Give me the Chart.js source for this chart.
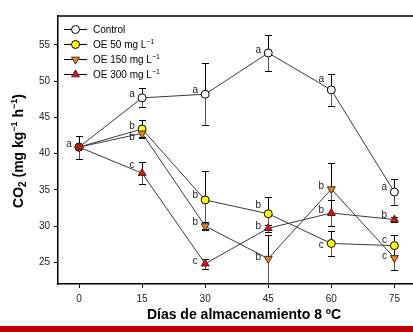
<!DOCTYPE html>
<html><head><meta charset="utf-8">
<script src="https://cdn.jsdelivr.net/npm/chart.js@4.4.1/dist/chart.umd.min.js"></script>
<style>
html,body{margin:0;padding:0;overflow:hidden;background:#fff;width:413px;height:332px;}
#wrap{position:relative;width:413px;height:332px;overflow:hidden;}
canvas{position:absolute;left:0;top:0;}
#bar{position:absolute;left:0;top:326px;width:413px;height:6px;background:#c00000;}
</style></head><body>
<div id="wrap"><canvas id="c" width="421" height="332"></canvas><div id="bar"></div></div>
<script>
// ---- data ----
const days = [0, 15, 30, 45, 60, 75];
const xTicks = [0, 15, 30, 45, 60, 75];
const yTicks = [25, 30, 35, 40, 45, 50, 55];
const seriesNames = ['Control', 'OE 50 mg L', 'OE 150 mg L', 'OE 300 mg L'];
const control = [40.9, 47.7, 48.2, 53.9, 48.8, 34.7];
const controlErr = [1.6, 1.3, 4.3, 2.5, 2.2, 1.8];
const oe50 = [40.9, 43.4, 33.6, 31.7, 27.6, 27.3];
const oe50Err = [1.6, 1.2, 4.0, 2.3, 1.7, 1.4];
const oe150 = [40.9, 42.8, 30.0, 25.5, 35.1, 25.6];
const oe150Err = [1.6, 0.5, 0.6, 3.3, 3.6, 1.6];
const oe300 = [40.9, 37.3, 24.8, 29.7, 31.8, 30.9];
const oe300Err = [1.6, 1.5, 0.7, 0.5, 1.8, 0.3];
const controlLetters = ['a', 'a', 'a', 'a', 'a', 'a'];
const oe50Letters = ['', 'b', 'b', 'b', 'c', 'c'];
const oe150Letters = ['', 'b', 'b', 'b', 'b', 'c'];
const oe300Letters = ['', 'c', 'c', 'b', 'b', 'b'];

// ---- style ----
const FONT = "'Liberation Sans', Arial, sans-serif";
Chart.defaults.font.family = FONT;
// per-point vertical offsets of the letters (px), default -4
const letterDy = [
  [-3, -4, -4, -3, -11, -5],
  [0, -3, -5, -8, 2, -5],
  [0, 4, -4, -1, -3, -2],
  [0, -8, -2, -2, -3, -4]
];
const styles = [
  {pointStyle: 'circle', radius: 4, rotation: 0, fill: '#ffffff', stroke: '#000'},
  {pointStyle: 'circle', radius: 4, rotation: 0, fill: '#ffff00', stroke: '#000'},
  {pointStyle: 'triangle', radius: 4.6, rotation: 180, fill: '#ff8000', stroke: '#333'},
  {pointStyle: 'triangle', radius: 4.6, rotation: 0, fill: '#ff0000', stroke: '#333'}
];
const values = [control, oe50, oe150, oe300];
const errs = [controlErr, oe50Err, oe150Err, oe300Err];
const letters = [controlLetters, oe50Letters, oe150Letters, oe300Letters];

const datasets = values.map((v, i) => ({
  label: seriesNames[i],
  data: days.map((d, j) => ({x: d, y: v[j]})),
  borderColor: '#3a3a3a',
  borderWidth: 1,
  tension: 0,
  pointStyle: styles[i].pointStyle,
  pointRotation: styles[i].rotation,
  pointRadius: styles[i].radius,
  pointBackgroundColor: styles[i].fill,
  pointBorderColor: styles[i].stroke,
  pointBorderWidth: 1,
  order: 4 - i
}));

const errorBars = {
  id: 'errorBars',
  beforeDatasetsDraw(chart) {
    const ctx = chart.ctx, xs = chart.scales.x, ys = chart.scales.y;
    ctx.save();
    ctx.lineWidth = 1;
    values.forEach((v, i) => {
      v.forEach((val, j) => {
        const x = Math.round(xs.getPixelForValue(days[j])) + 0.5;
        const yc = ys.getPixelForValue(val);
        const yt = Math.round(ys.getPixelForValue(val + errs[i][j])) + 0.5;
        const yb = Math.round(ys.getPixelForValue(val - errs[i][j])) + 0.5;
        ctx.strokeStyle = '#000';
        ctx.beginPath(); ctx.moveTo(x, yc); ctx.lineTo(x, yt);
        ctx.moveTo(x - 3.5, yt); ctx.lineTo(x + 3.5, yt); ctx.stroke();
        ctx.strokeStyle = '#555';
        ctx.beginPath(); ctx.moveTo(x, yc); ctx.lineTo(x, yb); ctx.stroke();
        ctx.strokeStyle = '#000';
        ctx.beginPath(); ctx.moveTo(x - 3.5, yb); ctx.lineTo(x + 3.5, yb); ctx.stroke();
      });
    });
    ctx.restore();
  }
};

function drawPieces(ctx, pieces, x, y, align) {
  let total = 0;
  pieces.forEach(p => { ctx.font = p.font; p.w = ctx.measureText(p.t).width; total += p.w; });
  let cx = align === 'center' ? x - total / 2 : x;
  ctx.textAlign = 'left';
  ctx.textBaseline = 'alphabetic';
  pieces.forEach(p => { ctx.font = p.font; ctx.fillText(p.t, cx, y + (p.dy || 0)); cx += p.w; });
}

const overlay = {
  id: 'overlay',
  afterDraw(chart) {
    const ctx = chart.ctx, xs = chart.scales.x, ys = chart.scales.y, a = chart.chartArea;
    ctx.save();
    // top frame line
    ctx.strokeStyle = '#000'; ctx.lineWidth = 1.5;
    ctx.beginPath(); ctx.moveTo(a.left - 0.75, a.top); ctx.lineTo(a.right + 2, a.top); ctx.stroke();
    // letters
    ctx.fillStyle = '#222';
    ctx.font = '10px ' + FONT;
    ctx.textAlign = 'center'; ctx.textBaseline = 'middle';
    letters.forEach((arr, i) => arr.forEach((t, j) => {
      if (!t) return;
      const x = xs.getPixelForValue(days[j]) - 10;
      const y = ys.getPixelForValue(values[i][j]) + letterDy[i][j];
      ctx.fillText(t, x, y);
    }));
    // legend
    const r10 = '10px ' + FONT, r7 = '7px ' + FONT;
    seriesNames.forEach((name, i) => {
      const y = 29 + 15 * i;
      ctx.strokeStyle = '#000'; ctx.lineWidth = 1;
      ctx.beginPath(); ctx.moveTo(64, y + 0.5); ctx.lineTo(87, y + 0.5); ctx.stroke();
      const s = styles[i];
      ctx.fillStyle = s.fill; ctx.strokeStyle = s.stroke; ctx.lineWidth = 1;
      Chart.helpers.drawPoint(ctx, {pointStyle: s.pointStyle, rotation: s.rotation, radius: s.radius, borderWidth: 1}, 75.5, y + 0.5);
      ctx.fillStyle = '#000';
      const pieces = [{t: name, font: r10}];
      if (i > 0) pieces.push({t: '\u22121', font: r7, dy: -4});
      drawPieces(ctx, pieces, 93, y + 4, 'left');
    });
    // x title
    ctx.fillStyle = '#000';
    drawPieces(ctx, [{t: 'Días de almacenamiento 8 ºC', font: 'bold 14px ' + FONT}], 244, 319, 'center');
    // y title
    ctx.translate(23, 151);
    ctx.rotate(-Math.PI / 2);
    const b14 = 'bold 14px ' + FONT, b10 = 'bold 10px ' + FONT, b9 = 'bold 9px ' + FONT;
    drawPieces(ctx, [
      {t: 'CO', font: b14}, {t: '2', font: b10, dy: 3},
      {t: ' (mg kg', font: b14}, {t: '\u22121', font: b9, dy: -6},
      {t: ' h', font: b14}, {t: '\u22121', font: b9, dy: -6},
      {t: ')', font: b14}
    ], 0, 0, 'center');
    ctx.restore();
  }
};

new Chart(document.getElementById('c'), {
  type: 'line',
  data: {datasets},
  options: {
    responsive: false,
    animation: false,
    devicePixelRatio: 1,
    layout: {padding: {top: 16, left: 0, right: 0, bottom: 0}},
    plugins: {legend: {display: false}, tooltip: {enabled: false}},
    scales: {
      x: {
        type: 'linear', min: -5, max: 80,
        afterBuildTicks: s => { s.ticks = xTicks.map(v => ({value: v})); },
        afterFit: s => { s.height = 48; },
        grid: {drawOnChartArea: false, drawTicks: true, tickLength: 4, tickColor: '#000'},
        border: {display: true, color: '#000', width: 1.5},
        ticks: {color: '#222', font: {size: 10}, padding: 5, maxRotation: 0}
      },
      y: {
        type: 'linear', min: 22, max: 59,
        afterBuildTicks: s => { s.ticks = yTicks.map(v => ({value: v})); },
        afterFit: s => { s.width = 58; },
        grid: {drawOnChartArea: false, drawTicks: true, tickLength: 4, tickColor: '#000'},
        border: {display: true, color: '#000', width: 1.5},
        ticks: {color: '#222', font: {size: 10}, padding: 4}
      }
    }
  },
  plugins: [errorBars, overlay]
});
</script>
</body></html>
